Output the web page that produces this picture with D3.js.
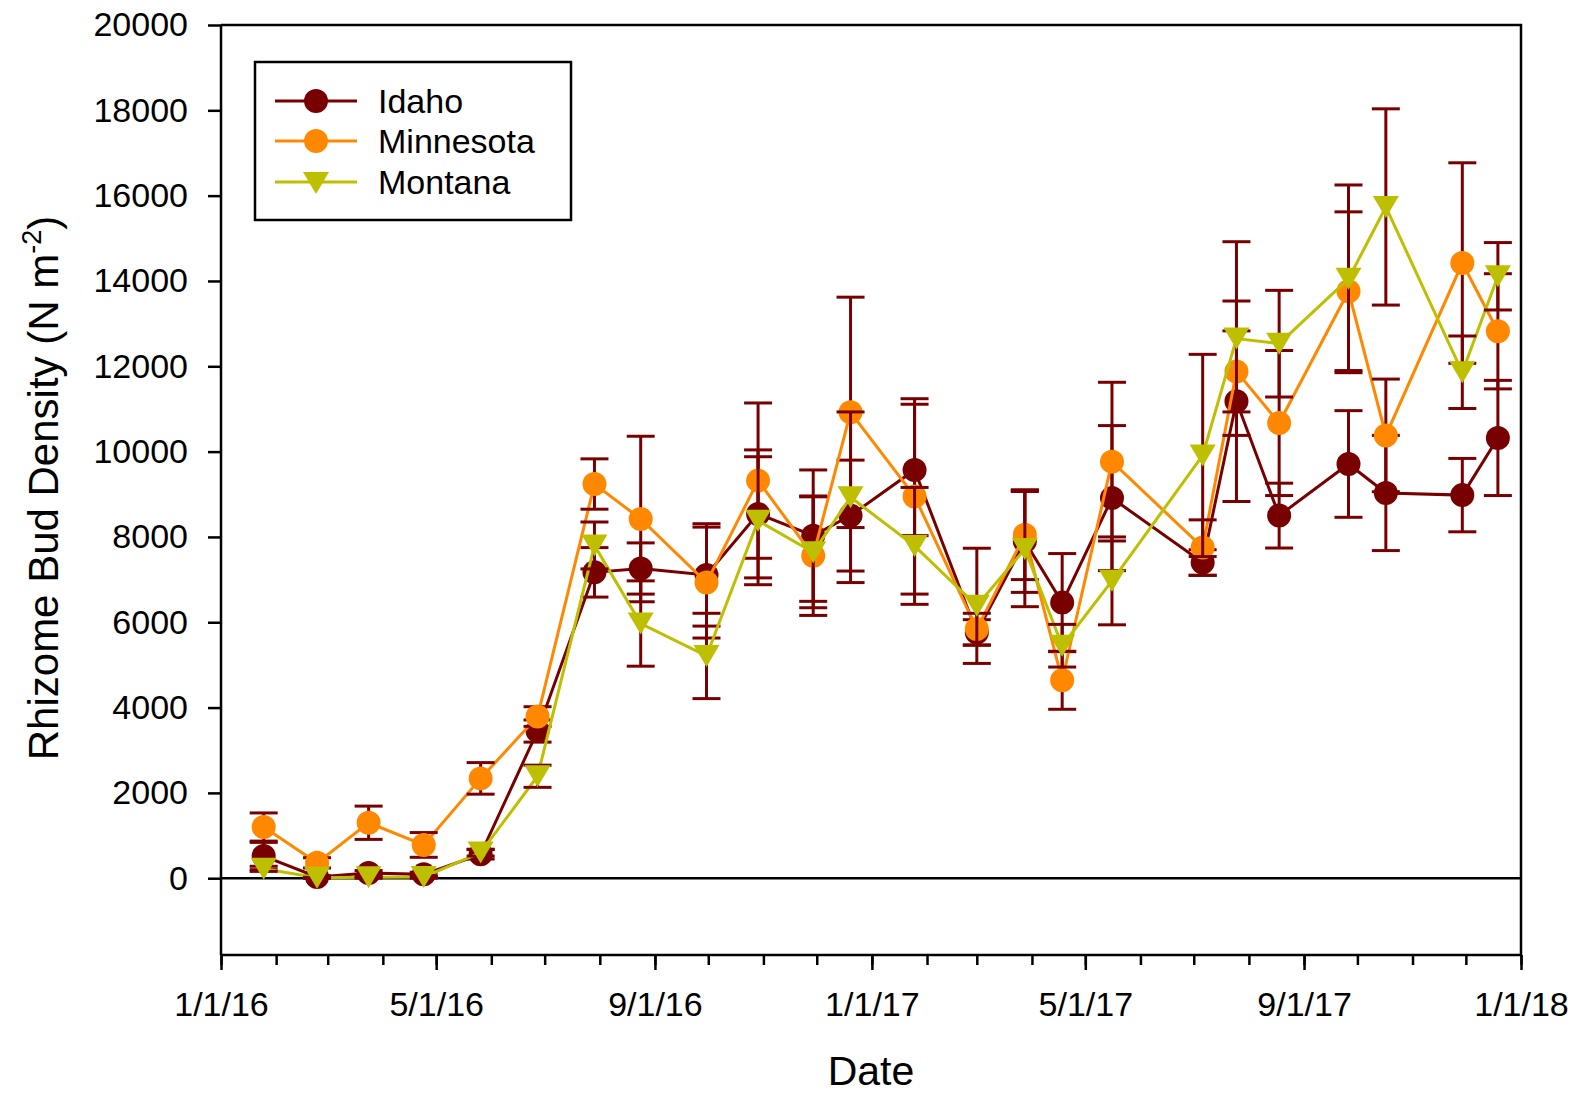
<!DOCTYPE html>
<html>
<head>
<meta charset="utf-8">
<script src="https://cdn.jsdelivr.net/npm/d3@7"></script>
<style>
  html, body { margin: 0; padding: 0; background: #fff; }
  svg { display: block; }
  text { font-family: "Liberation Sans", Arial, sans-serif; fill: #000; }
</style>
</head>
<body>
<svg id="chart" width="1571" height="1096"></svg>
<script>
const dates = ["2016-01-25","2016-02-24","2016-03-24","2016-04-24","2016-05-26","2016-06-27","2016-07-29","2016-08-24","2016-09-30","2016-10-29","2016-11-29","2016-12-20","2017-01-25","2017-03-01","2017-03-28","2017-04-18","2017-05-16","2017-07-06","2017-07-25","2017-08-18","2017-09-26","2017-10-17","2017-11-29","2017-12-19"];

const idaho = [520, 30, 120, 90, 560, 3450, 7170, 7260, 7110, 8540, 8030, 8500, 9570, 5760, 7900, 6460, 8910, 7400, 11180, 8500, 9710, 9030, 8980, 10320];
const idahoErr = [320, 30, 60, 50, 110, 260, 580, 600, 1200, 1500, 1540, 1300, 1540, 300, 1200, 1150, 1700, 300, 2350, 760, 1250, 1350, 860, 1350];

const minnesota = [1200, 360, 1300, 780, 2340, 3790, 9240, 8420, 6930, 9320, 7560, 10920, 8950, 5840, 8050, 4640, 9765, 7750, 11880, 10670, 13760, 10380, 14420, 12820];
const minnesotaErr = [330, 120, 390, 290, 370, 230, 590, 1940, 1300, 1820, 1400, 2700, 2290, 370, 1050, 680, 1860, 650, 950, 1700, 1860, 1320, 2350, 1350];

const montana = [220, 10, 20, 30, 600, 2390, 7800, 5970, 5210, 8380, 7640, 8930, 7790, 6385, 7715, 5450, 6970, 9910, 12650, 12530, 14050, 15735, 11860, 14110];
const montanaErr = [60, 10, 20, 30, 80, 260, 550, 1000, 1000, 1500, 1300, 2000, 1370, 1350, 1350, 500, 1030, 2370, 2270, 1250, 2200, 2300, 850, 790];

const seriesNames = ["Idaho", "Minnesota", "Montana"];
const seriesColors = ["#780000", "#FF8800", "#BDBF00"];
const seriesShapes = ["circle", "circle", "triangle"];
const errColor = "#780000";

const yTicks = [0, 2000, 4000, 6000, 8000, 10000, 12000, 14000, 16000, 18000, 20000];
const xMajorTicks = ["2016-01-01","2016-05-01","2016-09-01","2017-01-01","2017-05-01","2017-09-01","2018-01-01"];
const xTickLabels = ["1/1/16","5/1/16","9/1/16","1/1/17","5/1/17","9/1/17","1/1/18"];

const parse = d3.utcParse("%Y-%m-%d");
const svg = d3.select("#chart");

const L = 221, R = 1521, T = 25, B = 955;
const x = d3.scaleUtc().domain([parse("2016-01-01"), parse("2018-01-01")]).range([L, R]);
const y = d3.scaleLinear().domain([-1800, 20000]).range([B, T]);

// frame (top & right)
svg.append("path")
  .attr("d", `M${L},${T}H${R}V${B}`)
  .attr("fill", "none").attr("stroke", "#000").attr("stroke-width", 2.5);

// y axis
const yAxis = d3.axisLeft(y).tickValues(yTicks).tickSize(13).tickPadding(20).tickFormat(d3.format("d"));
const gy = svg.append("g").attr("transform", `translate(${L},0)`).call(yAxis);
gy.select(".domain").attr("stroke-width", 2.5).attr("d", `M0,${T}V${B}`);
gy.selectAll(".tick line").attr("stroke-width", 2.5);
gy.selectAll(".tick text").attr("font-size", 34).attr("font-family", "Liberation Sans, Arial, sans-serif").attr("fill", "#000");

// x axis minor ticks (monthly)
const months = d3.utcMonth.range(parse("2016-01-01"), parse("2018-01-02"));
const xMinor = d3.axisBottom(x).tickValues(months).tickSize(10).tickFormat("");
const gxm = svg.append("g").attr("transform", `translate(0,${B})`).call(xMinor);
gxm.select(".domain").remove();
gxm.selectAll(".tick line").attr("stroke-width", 2.5);

// x axis major
const xAxis = d3.axisBottom(x).tickValues(xMajorTicks.map(parse)).tickSize(15).tickPadding(22)
  .tickFormat((d, i) => xTickLabels[i]);
const gx = svg.append("g").attr("transform", `translate(0,${B})`).call(xAxis);
gx.select(".domain").attr("stroke-width", 2.5).attr("d", `M${L},0H${R}`);
gx.selectAll(".tick line").attr("stroke-width", 2.5);
gx.selectAll(".tick text").attr("font-size", 34).attr("font-family", "Liberation Sans, Arial, sans-serif").attr("fill", "#000");

// zero line
svg.append("line")
  .attr("x1", L).attr("x2", R).attr("y1", y(0)).attr("y2", y(0))
  .attr("stroke", "#000").attr("stroke-width", 2.5);

// axis titles
svg.append("text").attr("x", 871).attr("y", 1085).attr("text-anchor", "middle")
  .attr("font-size", 41).text("Date");

const yt = svg.append("text")
  .attr("transform", `translate(58,488) rotate(-90)`)
  .attr("text-anchor", "middle").attr("font-size", 42);
yt.append("tspan").text("Rhizome Bud Density (N m");
yt.append("tspan").attr("font-size", 27).attr("dy", -17).text("-2");
yt.append("tspan").attr("dy", 17).text(")");

// series
const allSeries = [
  { name: seriesNames[0], vals: idaho, errs: idahoErr, color: seriesColors[0], shape: seriesShapes[0] },
  { name: seriesNames[1], vals: minnesota, errs: minnesotaErr, color: seriesColors[1], shape: seriesShapes[1] },
  { name: seriesNames[2], vals: montana, errs: montanaErr, color: seriesColors[2], shape: seriesShapes[2] }
];

const triPath = (cx, cy, w, h) => `M${cx - w / 2},${cy - h / 2}L${cx + w / 2},${cy - h / 2}L${cx},${cy + h / 2}Z`;

const plot = svg.append("g");
allSeries.forEach(s => {
  const pts = dates.map((d, i) => ({ x: x(parse(d)), v: s.vals[i], e: s.errs[i] }));
  const line = d3.line().x(p => p.x).y(p => y(p.v));
  const g = plot.append("g");
  g.append("path").attr("d", line(pts)).attr("fill", "none")
    .attr("stroke", s.color).attr("stroke-width", 3);
  // error bars
  const eb = g.append("g").attr("stroke", errColor).attr("stroke-width", 3);
  pts.forEach(p => {
    const y1 = y(p.v + p.e), y2 = y(p.v - p.e);
    eb.append("line").attr("x1", p.x).attr("x2", p.x).attr("y1", y1).attr("y2", y2);
    eb.append("line").attr("x1", p.x - 14).attr("x2", p.x + 14).attr("y1", y1).attr("y2", y1);
    eb.append("line").attr("x1", p.x - 14).attr("x2", p.x + 14).attr("y1", y2).attr("y2", y2);
  });
  // markers
  pts.forEach(p => {
    if (s.shape === "circle") {
      g.append("circle").attr("cx", p.x).attr("cy", y(p.v)).attr("r", 12).attr("fill", s.color);
    } else {
      g.append("path").attr("d", triPath(p.x, y(p.v), 26, 22)).attr("fill", s.color);
    }
  });
});

// legend
const lg = svg.append("g");
lg.append("rect").attr("x", 255).attr("y", 62).attr("width", 316).attr("height", 158)
  .attr("fill", "#fff").attr("stroke", "#000").attr("stroke-width", 2.5);
const rowsY = [101, 141, 182];
allSeries.forEach((s, i) => {
  const cy = rowsY[i];
  lg.append("line").attr("x1", 275).attr("x2", 357).attr("y1", cy).attr("y2", cy)
    .attr("stroke", s.color).attr("stroke-width", 3);
  if (s.shape === "circle") {
    lg.append("circle").attr("cx", 316).attr("cy", cy).attr("r", 12).attr("fill", s.color);
  } else {
    lg.append("path").attr("d", triPath(316, cy + 1, 26, 22)).attr("fill", s.color);
  }
  lg.append("text").attr("x", 378).attr("y", cy + 12).attr("font-size", 34).text(s.name);
});
</script>
</body>
</html>
